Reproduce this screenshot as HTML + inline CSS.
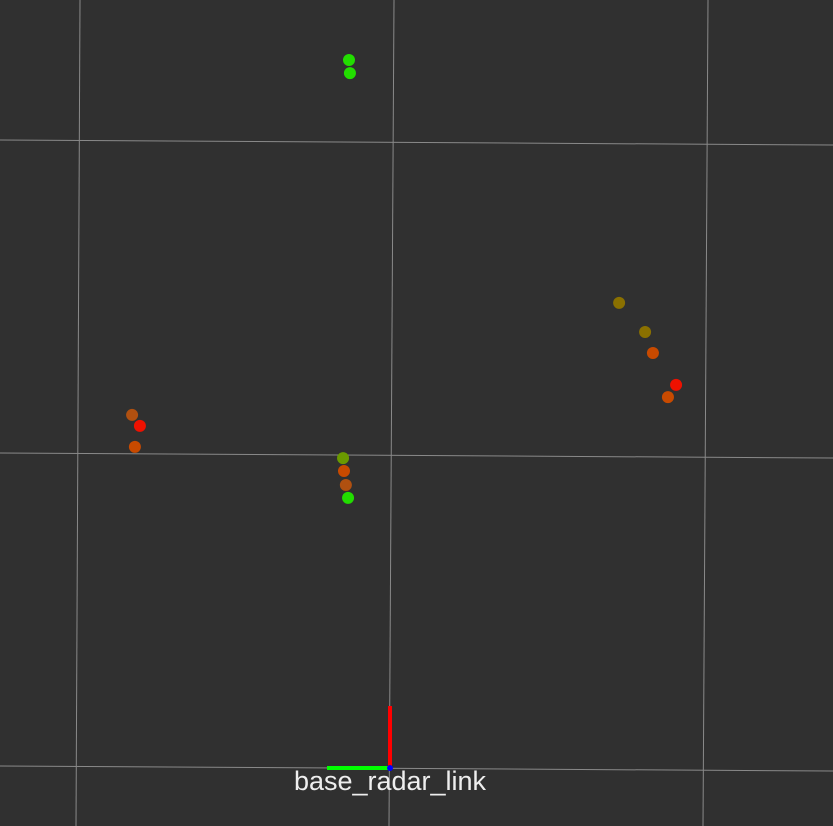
<!DOCTYPE html>
<html><head><meta charset="utf-8"><style>
html,body{margin:0;padding:0;background:#303030;}
svg{display:block;}
</style></head><body>
<svg id="chart" width="833" height="826" xmlns="http://www.w3.org/2000/svg">
<rect x="0" y="0" width="833" height="826" fill="#303030"/>
<g id="grid" stroke="#a0a0a0" stroke-width="1" opacity="0.8">
<line x1="80" y1="0" x2="76" y2="826"/>
<line x1="394" y1="0" x2="389" y2="826"/>
<line x1="708" y1="0" x2="703" y2="826"/>
<line x1="0" y1="140" x2="833" y2="145"/>
<line x1="0" y1="453" x2="833" y2="458"/>
<line x1="0" y1="766" x2="833" y2="771"/>
</g>
<g id="points"></g>
<g>
<rect x="388" y="706" width="4" height="63" fill="#ff0000"/>
<rect x="327" y="766" width="63" height="4" fill="#00ff00"/>
<circle cx="390" cy="768" r="3" fill="#0000ff"/>
</g>
<text x="390" y="790" text-anchor="middle" font-family="Liberation Sans, sans-serif" font-size="27" fill="#eeeeee">base_radar_link</text>
</svg>
<script>
const xs = [-0.131,-0.128,0.732,0.815,0.840,0.914,0.888,-0.824,-0.799,-0.815,-0.150,-0.147,-0.141,-0.134];
const ys = [2.262,2.220,1.486,1.393,1.326,1.224,1.185,1.128,1.093,1.026,0.990,0.949,0.904,0.863];
const colors = ['#22dd00','#22dd00','#8a7000','#8a7000','#c84a00','#ee1100','#c84a00','#b05010','#ee1100','#c84a00','#6a9a00','#c84a00','#b05010','#22dd00'];
const originX = 390, originY = 768, scale = 313;
function sx(v){ return originX + v*scale; }
function sy(v){ return originY - v*scale; }
const g = document.getElementById('points');
for (let i = 0; i < xs.length; i++) {
  const c = document.createElementNS('http://www.w3.org/2000/svg','circle');
  c.setAttribute('cx', sx(xs[i]));
  c.setAttribute('cy', sy(ys[i]));
  c.setAttribute('r', 6);
  c.setAttribute('fill', colors[i]);
  
  
  g.appendChild(c);
}
</script>
</body></html>
